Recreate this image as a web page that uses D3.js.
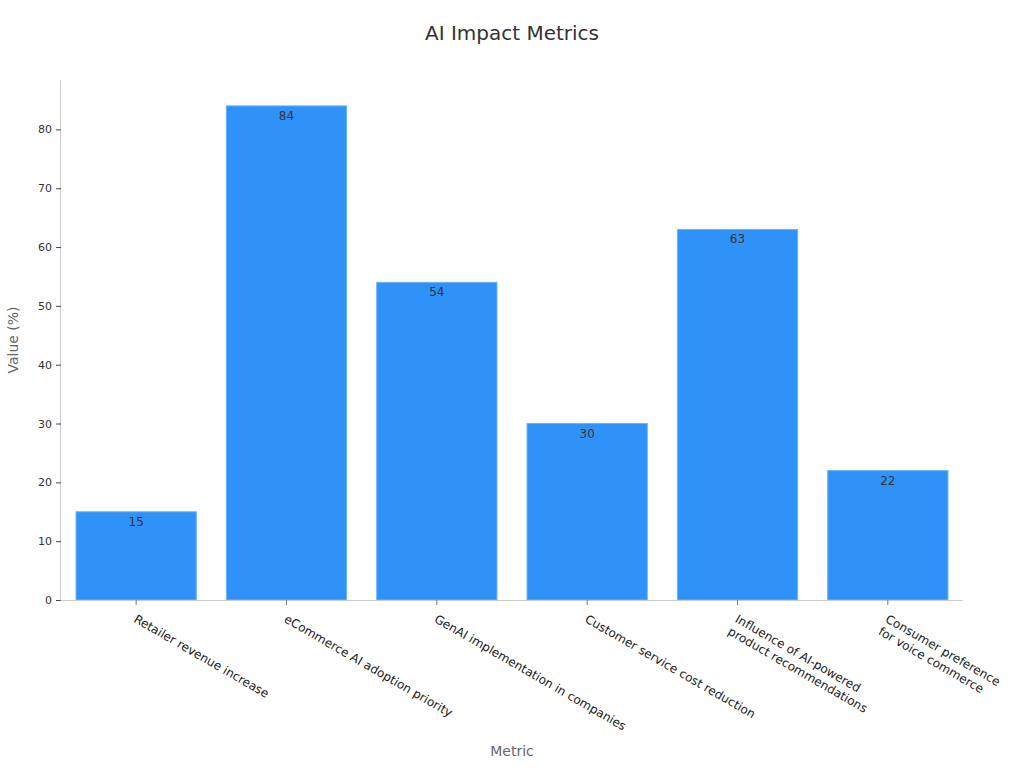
<!DOCTYPE html>
<html>
<head>
<meta charset="utf-8">
<title>AI Impact Metrics</title>
<script src="https://cdnjs.cloudflare.com/ajax/libs/d3/7.8.5/d3.min.js"></script>
<style>
  body { margin: 0; background: #fff; font-family: "DejaVu Sans", sans-serif; }
  .axis path, .axis line { stroke: #ccc; }
  .axis text { fill: #333; font-size: 11px; font-family: "DejaVu Sans", sans-serif; }
</style>
</head>
<body>
<svg id="chart" width="1024" height="768"></svg>
<script>
// chart data
var metrics = [
  ["Retailer revenue increase"],
  ["eCommerce AI adoption priority"],
  ["GenAI implementation in companies"],
  ["Customer service cost reduction"],
  ["Influence of AI-powered", "product recommendations"],
  ["Consumer preference", "for voice commerce"]
];
var values = [15, 84, 54, 30, 63, 22];
var yTicks = [0, 10, 20, 30, 40, 50, 60, 70, 80];
var yMax = 88.4;

var margin = {top: 80, right: 61, bottom: 168, left: 61},
    width = 1024 - margin.left - margin.right,
    height = 768 - margin.top - margin.bottom;

var svg = d3.select("#chart");
var g = svg.append("g")
    .attr("transform", "translate(" + margin.left + "," + margin.top + ")");

var x = d3.scaleBand()
    .domain(d3.range(metrics.length))
    .range([0, width])
    .paddingInner(0.2)
    .paddingOuter(0.1);

var y = d3.scaleLinear()
    .domain([0, yMax])
    .range([height, 0]);

/* bars */
g.selectAll("rect.bar")
    .data(values)
  .enter().append("rect")
    .attr("class", "bar")
    .attr("x", function(d, i) { return x(i); })
    .attr("y", function(d) { return y(d); })
    .attr("width", x.bandwidth())
    .attr("height", function(d) { return height - y(d); })
    .style("fill", "#2e92f8")
    .style("stroke", "#6cb2ff")
    .style("stroke-width", 1);

/* value labels */
g.selectAll("text.val")
    .data(values)
  .enter().append("text")
    .attr("class", "val")
    .attr("x", function(d, i) { return x(i) + x.bandwidth() / 2; })
    .attr("y", function(d) { return y(d) + 14; })
    .attr("text-anchor", "middle")
    .style("font-size", "12px")
    .style("fill", "#333")
    .text(function(d) { return d; });

/* y axis */
var yAxis = g.append("g")
    .attr("class", "axis")
    .call(d3.axisLeft(y).tickValues(yTicks).tickSize(5).tickPadding(4));
yAxis.selectAll(".tick line").style("stroke", "#444");

/* x axis */
var xAxis = g.append("g")
    .attr("class", "axis")
    .attr("transform", "translate(0," + height + ")")
    .call(d3.axisBottom(x).tickSize(5).tickFormat(""));
xAxis.selectAll(".tick line").style("stroke", "#777");
xAxis.select(".domain").attr("d", "M-0.5,0.5H" + width);
yAxis.select(".domain").attr("d", "M-0.5," + height + "V0.5");

xAxis.selectAll(".tick").each(function(d) {
  var t = d3.select(this).append("text")
      .attr("transform", "translate(1,14) rotate(30)")
      .attr("text-anchor", "start")
      .style("font-size", "12px")
      .style("fill", "#222");
  metrics[d].forEach(function(line, k) {
    t.append("tspan")
        .attr("x", 0)
        .attr("dy", k === 0 ? "0.71em" : "1.2em")
        .text(line);
  });
});

/* titles */
svg.append("text")
    .attr("x", 512)
    .attr("y", 40)
    .attr("text-anchor", "middle")
    .style("font-size", "20px")
    .style("fill", "#333")
    .text("AI Impact Metrics");

svg.append("text")
    .attr("x", margin.left + width / 2)
    .attr("y", 756)
    .attr("text-anchor", "middle")
    .style("font-size", "14px")
    .style("fill", "#666")
    .text("Metric");

svg.append("text")
    .attr("transform", "translate(18," + (margin.top + height / 2) + ") rotate(-90)")
    .attr("text-anchor", "middle")
    .style("font-size", "14px")
    .style("fill", "#666")
    .text("Value (%)");
</script>
</body>
</html>
